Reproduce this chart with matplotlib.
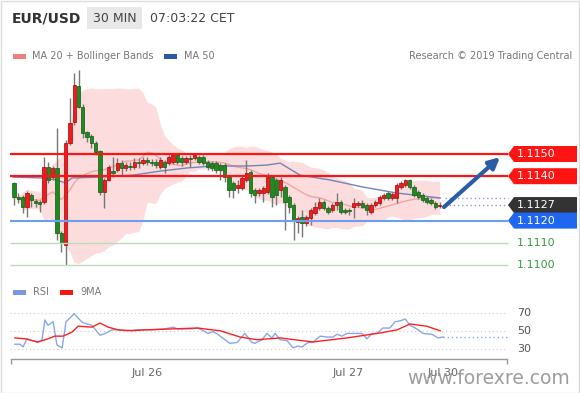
import numpy as np
import pandas as pd
import matplotlib
matplotlib.use('Agg')
import matplotlib.pyplot as plt
from matplotlib.patches import Polygon, Rectangle

# ---- data (30 min EUR/USD candles) ----
opens = [1.11369, 1.11306, 1.11306, 1.11261, 1.11315, 1.11288, 1.11284, 1.11284, 1.11441, 1.11396,
         1.11437, 1.11144, 1.11090, 1.11550, 1.11644, 1.11806, 1.11712, 1.11599, 1.11581, 1.11550,
         1.11514, 1.11329, 1.11383, 1.11423, 1.11428, 1.11459, 1.11437, 1.11446, 1.11441, 1.11464,
         1.11459, 1.11473, 1.11464, 1.11464, 1.11441, 1.11464, 1.11459, 1.11464, 1.11495, 1.11482,
         1.11464, 1.11482, 1.11482, 1.11486, 1.11486, 1.11464, 1.11459, 1.11459, 1.11450, 1.11450,
         1.11396, 1.11369, 1.11347, 1.11347, 1.11383, 1.11419, 1.11338, 1.11324, 1.11324, 1.11329,
         1.11396, 1.11383, 1.11338, 1.11351, 1.11306, 1.11270, 1.11194, 1.11216, 1.11189, 1.11212,
         1.11234, 1.11257, 1.11284, 1.11257, 1.11248, 1.11270, 1.11284, 1.11248, 1.11248, 1.11261,
         1.11270, 1.11279, 1.11270, 1.11239, 1.11270, 1.11279, 1.11302, 1.11324, 1.11302, 1.11302,
         1.11351, 1.11360, 1.11383, 1.11351, 1.11329, 1.11315, 1.11302, 1.11293, 1.11279, 1.11265]
highs = [1.11374, 1.11324, 1.11315, 1.11333, 1.11324, 1.11297, 1.11293, 1.11486, 1.11464, 1.11446,
         1.11617, 1.11153, 1.11563, 1.11752, 1.11865, 1.11878, 1.11725, 1.11604, 1.11590, 1.11559,
         1.11518, 1.11392, 1.11450, 1.11486, 1.11482, 1.11473, 1.11464, 1.11464, 1.11482, 1.11482,
         1.11486, 1.11486, 1.11477, 1.11477, 1.11486, 1.11473, 1.11495, 1.11505, 1.11505, 1.11491,
         1.11491, 1.11495, 1.11505, 1.11495, 1.11495, 1.11473, 1.11468, 1.11468, 1.11459, 1.11459,
         1.11405, 1.11378, 1.11383, 1.11401, 1.11473, 1.11428, 1.11347, 1.11347, 1.11356, 1.11414,
         1.11405, 1.11392, 1.11396, 1.11360, 1.11315, 1.11279, 1.11221, 1.11248, 1.11225, 1.11257,
         1.11284, 1.11302, 1.11293, 1.11266, 1.11279, 1.11324, 1.11293, 1.11257, 1.11257, 1.11302,
         1.11288, 1.11293, 1.11279, 1.11279, 1.11293, 1.11315, 1.11324, 1.11333, 1.11329, 1.11369,
         1.11378, 1.11387, 1.11387, 1.11360, 1.11338, 1.11324, 1.11311, 1.11302, 1.11288, 1.11282]
lows = [1.11270, 1.11279, 1.11234, 1.11216, 1.11261, 1.11261, 1.11239, 1.11275, 1.11369, 1.11383,
        1.11113, 1.11059, 1.11000, 1.11541, 1.11631, 1.11707, 1.11572, 1.11554, 1.11527, 1.11495,
        1.11315, 1.11257, 1.11378, 1.11396, 1.11419, 1.11405, 1.11423, 1.11428, 1.11432, 1.11437,
        1.11450, 1.11450, 1.11446, 1.11437, 1.11432, 1.11414, 1.11450, 1.11455, 1.11455, 1.11446,
        1.11455, 1.11441, 1.11473, 1.11455, 1.11450, 1.11428, 1.11423, 1.11414, 1.11383, 1.11374,
        1.11306, 1.11302, 1.11324, 1.11338, 1.11374, 1.11306, 1.11279, 1.11311, 1.11284, 1.11320,
        1.11261, 1.11270, 1.11306, 1.11158, 1.11234, 1.11113, 1.11144, 1.11126, 1.11176, 1.11180,
        1.11225, 1.11248, 1.11248, 1.11230, 1.11239, 1.11248, 1.11230, 1.11230, 1.11225, 1.11212,
        1.11261, 1.11257, 1.11225, 1.11230, 1.11261, 1.11270, 1.11293, 1.11293, 1.11293, 1.11279,
        1.11342, 1.11351, 1.11342, 1.11306, 1.11297, 1.11284, 1.11275, 1.11270, 1.11252, 1.11258]
closes = [1.11306, 1.11297, 1.11261, 1.11324, 1.11293, 1.11279, 1.11275, 1.11441, 1.11383, 1.11437,
          1.11144, 1.11099, 1.11550, 1.11640, 1.11811, 1.11712, 1.11595, 1.11577, 1.11550, 1.11509,
          1.11329, 1.11383, 1.11441, 1.11414, 1.11459, 1.11437, 1.11450, 1.11441, 1.11464, 1.11459,
          1.11473, 1.11464, 1.11459, 1.11450, 1.11473, 1.11441, 1.11486, 1.11495, 1.11464, 1.11464,
          1.11482, 1.11477, 1.11495, 1.11464, 1.11459, 1.11441, 1.11437, 1.11428, 1.11428, 1.11396,
          1.11338, 1.11338, 1.11360, 1.11392, 1.11414, 1.11324, 1.11315, 1.11338, 1.11347, 1.11396,
          1.11306, 1.11315, 1.11383, 1.11284, 1.11261, 1.11203, 1.11212, 1.11189, 1.11216, 1.11248,
          1.11261, 1.11284, 1.11257, 1.11239, 1.11270, 1.11284, 1.11239, 1.11239, 1.11243, 1.11279,
          1.11279, 1.11261, 1.11248, 1.11270, 1.11284, 1.11306, 1.11315, 1.11302, 1.11320, 1.11360,
          1.11369, 1.11383, 1.11351, 1.11315, 1.11306, 1.11293, 1.11284, 1.11279, 1.11261, 1.11272]

# MA 50 read at a few candle positions
ma50_pos = [-0.2, 6.7, 10.0, 11.9, 13.5, 20.0, 27.7, 34.0, 40.2, 46.3, 54.2, 58.8, 61.9, 66.5, 73.5, 81.2, 89.1, 99.1]
ma50_val = [1.11396, 1.11392, 1.11383, 1.11369, 1.11392, 1.11396, 1.11405, 1.11423, 1.11437, 1.11446,
            1.11446, 1.11450, 1.11459, 1.11405, 1.11383, 1.11351, 1.11324, 1.11302]

# RSI and its 9MA
rsi_pos = [0.2, 1.4, 2.1, 3.0, 4.2, 5.6, 6.5, 7.2, 7.9, 9.1, 10.0, 11.2, 12.1, 13.0, 14.0, 14.9, 16.0,
           18.1, 20.0, 21.2, 22.8, 24.2, 25.8, 28.8, 32.1, 35.1, 37.0, 38.1, 41.4, 42.6, 43.7, 45.1,
           46.3, 47.4, 48.5, 50.2, 51.9, 53.7, 55.3, 56.0, 57.7, 58.8, 60.0, 60.7, 61.9, 63.5, 64.9,
           66.0, 67.0, 68.4, 69.5, 71.2, 72.8, 74.2, 75.1, 76.3, 77.4, 79.8, 80.9, 82.1, 83.3, 84.4,
           85.8, 87.4, 88.6, 89.8, 91.0, 92.1, 93.7, 95.1, 97.2, 98.6, 99.8]
rsi_val = [35, 35, 32, 41, 39, 37, 40, 62, 56, 60, 34, 31, 60, 64, 69, 64, 59,
           56, 45, 47, 51, 51, 50, 51, 51, 52, 54, 52, 52, 53, 51, 47,
           49, 46, 42, 36, 37, 47, 37, 36, 40, 47, 42, 47, 40, 39, 31,
           33, 32, 37, 37, 44, 43, 43, 46, 44, 47, 47, 47, 41, 47, 47,
           53, 53, 60, 61, 63, 56, 52, 47, 46, 42, 43]
ma9_pos = [0.2, 2.6, 5.6, 7.9, 9.5, 11.4, 13.5, 14.9, 18.1, 20.0, 21.9, 24.2, 27.4, 30.5,
           36.7, 42.8, 46.0, 47.9, 52.6, 56.5, 61.9, 69.5, 77.4, 85.1, 89.1, 92.1, 96.0, 99.1]
ma9_val = [42, 41, 37.5, 41, 44, 44, 48.5, 55, 54, 58.5, 54, 51, 50, 51,
           52, 53, 51, 50, 43, 40, 42, 37.5, 42, 47.5, 51, 57.5, 55, 50]

levels = [1.1150, 1.1140, 1.1127, 1.1120, 1.1110, 1.1100]
day_labels = ['Jul 26', 'Jul 27', 'Jul 30']
day_pos = [30.9, 77.7, 99.8]
rsi_ticks = [30, 50, 70]

# ---- layout helpers (pixels of the 580x393 picture) ----
W, H = 580, 393
fig = plt.figure(figsize=(W / 100, H / 100), dpi=100)
fig.patch.set_facecolor('white')


def rect(x0, y0, x1, y1):
    return [x0 / W, 1 - y1 / H, (x1 - x0) / W, (y1 - y0) / H]


def xi(px):
    return (px - 14) / 4.3


x_left, x_end, x_right = xi(10), xi(508), xi(580)
fig.add_artist(Rectangle((0.001, 0.001), 0.997, 0.997, transform=fig.transFigure,
                         fill=False, ec='#dddddd', lw=1))

# header
fig.text(12 / W, 1 - 18 / H, 'EUR/USD', fontsize=10, fontweight='bold', color='#333333', va='center')
fig.add_artist(Rectangle((87 / W, 1 - 29 / H), 55 / W, 22 / H, transform=fig.transFigure,
                         fc='#e8e8e8', ec='none'))
fig.text(114.5 / W, 1 - 18 / H, '30 MIN', fontsize=9, color='#444444', va='center', ha='center')
fig.text(150 / W, 1 - 18 / H, '07:03:22 CET', fontsize=9, color='#444444', va='center')

# legend of price panel
fig.add_artist(Rectangle((13 / W, 1 - 59 / H), 13 / W, 5 / H, transform=fig.transFigure,
                         fc='#f07f7f', ec='none'))
fig.text(32 / W, 1 - 56 / H, 'MA 20 + Bollinger Bands', fontsize=7, color='#777777', va='center')
fig.add_artist(Rectangle((164 / W, 1 - 59 / H), 13 / W, 5 / H, transform=fig.transFigure,
                         fc='#2c57a8', ec='none'))
fig.text(184 / W, 1 - 56 / H, 'MA 50', fontsize=7, color='#777777', va='center')
fig.text(572 / W, 1 - 56 / H, 'Research \u00a9 2019 Trading Central', fontsize=7,
         color='#777777', va='center', ha='right')

# ---- price panel ----
ax = fig.add_axes(rect(10, 68, 580, 272))
ax.set_xlim(x_left, x_right)
ax.set_ylim(1.109685, 1.118874)
ax.axis('off')

idx = np.arange(len(closes))
o, h, l, c = map(np.array, (opens, highs, lows, closes))

# Bollinger bands (20, 2) from the closes
cs = pd.Series(c)
mid = cs.rolling(20, min_periods=1).mean()
sd = cs.rolling(20, min_periods=1).std(ddof=0)
ax.fill_between(idx, mid - 2 * sd, mid + 2 * sd, color='#fcdcdc', lw=0, zorder=1)
ax.plot(idx, mid, color='#f4a3a3', lw=1, zorder=2)
ax.plot(ma50_pos, ma50_val, color='#6f86b8', lw=1, zorder=2)

up = c >= o
ax.vlines(idx, l, h, color='#777777', lw=1, zorder=2.5)
body = np.maximum(np.abs(c - o), 0.00004)
ax.bar(idx[up], body[up], bottom=np.minimum(o, c)[up], width=0.75,
       color='#ee1c1c', edgecolor='#b00000', lw=0.5, zorder=3)
ax.bar(idx[~up], body[~up], bottom=np.minimum(o, c)[~up], width=0.75,
       color='#1f8a1f', edgecolor='#0e5a0e', lw=0.5, zorder=3)

# level lines
ax.hlines(levels[0:2], x_left, x_end, colors='#ff1414', lw=1.6, zorder=4)
ax.hlines(levels[3], x_left, x_end, colors='#6d9df0', lw=1.5, zorder=4)
ax.hlines(levels[4:6], x_left, x_end, colors='#b9dcb9', lw=1.0, zorder=4)
ax.hlines(ma50_val[-1], xi(445), x_end, colors='#8fa3d0', lw=1, linestyles=(0, (1, 2)), zorder=4)
ax.hlines(closes[-1], xi(445), x_end, colors='#999999', lw=1, linestyles=(0, (1, 2)), zorder=4)

# price tags on the right
hh = 8 / 22200
tag_colors = ['#ff1414', '#ff1414', '#333333', '#1f66f0']
for lv, col in zip(levels[:4], tag_colors):
    pts = [(x_end, lv), (x_end + 1.4, lv + hh), (xi(577), lv + hh), (xi(577), lv - hh), (x_end + 1.4, lv - hh)]
    ax.add_patch(Polygon(pts, closed=True, fc=col, ec='none', zorder=5, clip_on=False))
    ax.text(xi(517), lv, f'{lv:.4f}', color='white', fontsize=8, va='center', ha='left', zorder=6)
for lv in levels[4:]:
    ax.text(xi(517), lv, f'{lv:.4f}', color='#3a9a3a', fontsize=8, va='center', ha='left', zorder=6)

# forecast arrow
ax.annotate('', xy=(xi(500), 1.11486), xytext=(xi(444), 1.11261),
            arrowprops=dict(arrowstyle='-|>', color='#2a5ca8', lw=3, mutation_scale=16,
                            shrinkA=0, shrinkB=0), zorder=6)

# ---- RSI panel ----
fig.add_artist(Rectangle((13 / W, 1 - 294.5 / H), 13 / W, 5 / H, transform=fig.transFigure,
                         fc='#7a98e0', ec='none'))
fig.text(33 / W, 1 - 292 / H, 'RSI', fontsize=7, color='#777777', va='center')
fig.add_artist(Rectangle((60 / W, 1 - 294.5 / H), 13 / W, 5 / H, transform=fig.transFigure,
                         fc='#ff1414', ec='none'))
fig.text(80 / W, 1 - 292 / H, '9MA', fontsize=7, color='#777777', va='center')

ax2 = fig.add_axes(rect(10, 296, 580, 366))
ax2.set_xlim(x_left, x_right)
ax2.set_ylim(10.8, 88.6)
ax2.axis('off')

ax2.hlines(rsi_ticks, x_left, x_end, colors='#cccccc', lw=0.8, linestyles=(0, (1, 2.5)))
for t in rsi_ticks:
    ax2.text(xi(517), t, str(t), fontsize=8, color='#555555', va='center', ha='left')
ax2.plot(rsi_pos, rsi_val, color='#8aa6ea', lw=1)
ax2.plot(ma9_pos, ma9_val, color='#ff2020', lw=1)
ax2.hlines(rsi_val[-1], rsi_pos[-1], x_end, colors='#8aa6ea', lw=1, linestyles=(0, (1, 2)))

# time axis
base = 18.6
ax2.plot([x_left + 0.2, x_end - 0.2], [base, base], color='#999999', lw=1)
ax2.vlines([x_left + 0.2, x_end - 0.2], 13.0, base, color='#999999', lw=1)
for lab, p in zip(day_labels, day_pos):
    ax2.text(p, 3.0, lab, fontsize=8, color='#666666', ha='center', va='center')

# watermark
fig.text(489 / W, 1 - 379 / H, 'www.forexre.com', fontsize=13.5, color='#8c8c8c',
         alpha=0.85, ha='center', va='center')

plt.savefig('out.png', dpi=100)
